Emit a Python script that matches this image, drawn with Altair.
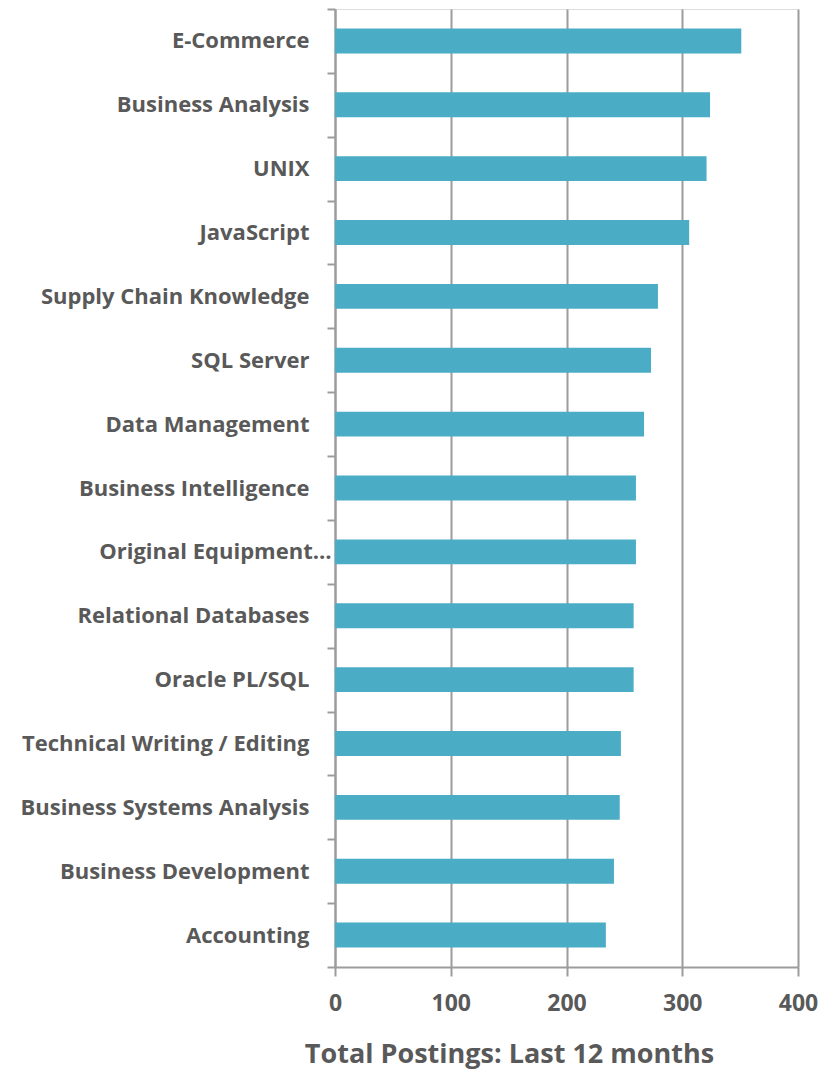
import altair as alt
import pandas as pd

skills = [
    "E-Commerce",
    "Business Analysis",
    "UNIX",
    "JavaScript",
    "Supply Chain Knowledge",
    "SQL Server",
    "Data Management",
    "Business Intelligence",
    "Original Equipment Manufacturer",
    "Relational Databases",
    "Oracle PL/SQL",
    "Technical Writing / Editing",
    "Business Systems Analysis",
    "Business Development",
    "Accounting",
]
postings = [351, 324, 321, 306, 279, 273, 267, 260, 260, 258, 258, 247, 246, 241, 234]
x_ticks = [0, 100, 200, 300, 400]

df = pd.DataFrame({"skill": skills, "postings": postings})

GRAY = "#9c9c9c"
TEXT = "#595959"
FONT = "Open Sans"

chart = (
    alt.Chart(df)
    .mark_bar(color="#4BACC6", height=alt.RelativeBandSize(0.39))
    .encode(
        x=alt.X(
            "postings:Q",
            scale=alt.Scale(domain=[0, 400], nice=False, zero=True),
            axis=alt.Axis(
                values=x_ticks,
                title="Total Postings: Last 12 months",
                titleFont=FONT,
                titleFontSize=27,
                titleFontWeight="bold",
                titleColor=TEXT,
                titleX=174,
                titleY=95,
                titleAlign="center",
                titleBaseline="alphabetic",
                labelFont=FONT,
                labelFontSize=23,
                labelFontWeight="bold",
                labelColor=TEXT,
                labelPadding=16,
                labelFlush=False,
                labelOverlap=False,
                tickSize=9,
                tickWidth=2,
                tickColor=GRAY,
                domainColor=GRAY,
                domainWidth=2,
                grid=True,
                gridColor=GRAY,
                gridWidth=2,
            ),
        ),
        y=alt.Y(
            "skill:N",
            sort=skills,
            scale=alt.Scale(paddingInner=0, paddingOuter=0),
            axis=alt.Axis(
                title=None,
                labelFont=FONT,
                labelFontSize=22,
                labelFontWeight="bold",
                labelColor=TEXT,
                labelLimit=400,
                labelExpr="datum.value == 'Original Equipment Manufacturer' ? 'Original Equipment…' : datum.value",
                labelPadding={
                    "condition": {
                        "test": "datum.value == 'Original Equipment Manufacturer'",
                        "value": -4,
                    },
                    "value": 18,
                },
                tickBand="extent",
                tickSize=8,
                tickWidth=2,
                tickColor=GRAY,
                domainColor=GRAY,
                domainWidth=2,
                grid=False,
            ),
        ),
    )
    .properties(
        width=463,
        height=958,
        autosize=alt.AutoSizeParams(type="none"),
        padding={"left": 327, "top": 1, "right": 22, "bottom": 103},
    )
    .configure_view(stroke=None)
    .configure(background="white")
)

chart.save("out.html", embed_options={"renderer": "svg", "actions": False})
